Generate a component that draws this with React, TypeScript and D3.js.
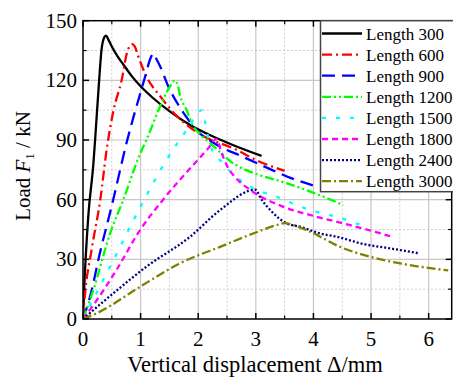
import React from 'react';
import * as d3 from 'd3';

type Pt = [number, number];

const seriesNames = ['Length 300', 'Length 600', 'Length 900', 'Length 1200', 'Length 1500', 'Length 1800', 'Length 2400', 'Length 3000'];
const seriesColors = ['#000000', '#ff0000', '#0000ff', '#00ff00', '#00ffff', '#ff00ff', '#000080', '#808000'];
const seriesDash = ['none', '10,4,2,4', '13,7', '9,3,2,3,2,3', '4,10', '6,4', '2,2', '9,3,2,3'];

const L300: Pt[] = [[0, 0], [0.02, 15], [0.09, 51], [0.18, 78], [0.21, 90], [0.28, 120], [0.32, 135], [0.36, 141], [0.4, 142.5], [0.44, 140.5], [0.5, 137], [0.6, 132], [0.7, 128], [0.85, 122], [1.0, 117], [1.2, 111.5], [1.5, 104.5], [1.86, 97.5], [2.2, 92.5], [2.6, 87.5], [3.1, 82]];
const L600: Pt[] = [[0, 0], [0.03, 11], [0.15, 35], [0.3, 60], [0.41, 85], [0.53, 105], [0.67, 120], [0.76, 133.5], [0.85, 138.2], [0.9, 137], [0.96, 132], [1.1, 122], [1.34, 112], [1.63, 102], [2.0, 93.5], [2.67, 85], [3.0, 80], [3.5, 74.5]];
const L900: Pt[] = [[0, 0], [0.12, 11], [0.3, 34], [0.5, 57], [0.76, 89], [1.08, 122], [1.17, 131], [1.22, 133.5], [1.27, 131], [1.34, 127], [1.48, 117], [1.68, 106.5], [1.86, 99], [1.97, 95], [2.3, 88], [2.78, 81.5], [3.2, 76], [3.6, 71], [4.07, 66.5]];
const L1200: Pt[] = [[0, 0], [0.18, 14.6], [0.47, 43], [0.7, 60], [0.99, 83], [1.1, 90], [1.34, 107], [1.5, 116.5], [1.6, 120], [1.65, 117], [1.68, 113], [1.8, 105], [1.91, 97], [2.03, 93], [2.3, 86], [2.55, 79.5], [3.1, 72], [3.4, 69.5], [3.88, 64.8], [4.52, 57.3]];
const L1500: Pt[] = [[0, 0], [0.5, 28], [0.99, 56], [1.45, 80], [1.8, 95], [2.07, 105], [2.12, 99], [2.2, 88], [2.44, 78], [2.9, 66.5], [3.36, 61.5], [3.94, 54.8], [4.4, 51.4], [4.8, 47.5]];
const L1800: Pt[] = [[0, 0], [0.24, 9.5], [0.58, 24.6], [0.99, 44.7], [1.39, 60], [2.15, 85], [2.32, 90.5], [2.4, 84], [2.5, 77], [2.65, 71], [2.9, 65], [3.48, 56.4], [4.06, 51.4], [4.64, 47.2], [5.33, 41.7]];
const L2400: Pt[] = [[0, 0], [0.12, 3], [0.53, 13], [1.1, 26.3], [1.86, 41.4], [2.38, 54.8], [2.99, 65], [3.1, 60], [3.25, 54.8], [3.54, 48], [3.77, 46.4], [4.11, 43], [4.4, 41.4], [4.87, 37.7], [5.33, 35.5], [5.84, 33]];
const L3000: Pt[] = [[0, 0], [0.24, 2.9], [0.99, 16.2], [1.68, 28], [2.38, 36.3], [3.0, 43.5], [3.36, 47.2], [3.5, 48.2], [3.65, 47.2], [3.94, 43.9], [4.46, 36.3], [4.98, 31.3], [5.5, 28], [6.34, 24.4]];
const seriesData = [L300, L600, L900, L1200, L1500, L1800, L2400, L3000];

const xMajorTicks = [0, 1, 2, 3, 4, 5, 6];
const xMinorTicks = [0.5, 1.5, 2.5, 3.5, 4.5, 5.5];
const yMajorTicks = [0, 30, 60, 90, 120, 150];
const yMinorTicks = [15, 45, 75, 105, 135];

const W = 453, H = 381;
const L = 83, R = 451.7, T = 20.7, B = 319;
const FONT = "Liberation Serif";

export default function App() {
  const x = d3.scaleLinear().domain([0, 6.4]).range([L, R]);
  const y = d3.scaleLinear().domain([0, 150]).range([B, T]);
  const line = d3.line<Pt>().x(d => x(d[0])).y(d => y(d[1])).curve(d3.curveMonotoneX);
  const ts = { fontFamily: FONT };

  const legX = 320.5, legY = T, legB = 191.7;
  const rowY0 = 33.5, rowDy = 21.1;

  return (
    <svg width={W} height={H} style={{ position: 'absolute', left: 0, top: 0, fontFamily: FONT }}>
      <defs>
        <clipPath id="plotclip"><rect x={L} y={T} width={R - L} height={B - T} /></clipPath>
      </defs>
      <rect x={0} y={0} width={W} height={H} fill="#fff" />
      {xMinorTicks.map(v => <line key={'xm' + v} x1={x(v)} x2={x(v)} y1={T} y2={B} stroke="#cfcfcf" strokeWidth={1} strokeDasharray="2,2" />)}
      {yMinorTicks.map(v => <line key={'ym' + v} x1={L} x2={R} y1={y(v)} y2={y(v)} stroke="#cfcfcf" strokeWidth={1} strokeDasharray="2,2" />)}
      {xMajorTicks.filter(v => v > 0).map(v => <line key={'xg' + v} x1={x(v)} x2={x(v)} y1={T} y2={B} stroke="#c8c8c8" strokeWidth={1.2} />)}
      {yMajorTicks.filter(v => v > 0 && v < 150).map(v => <line key={'yg' + v} x1={L} x2={R} y1={y(v)} y2={y(v)} stroke="#c8c8c8" strokeWidth={1.2} />)}
      <g clipPath="url(#plotclip)">
        {seriesData.map((d, i) => (
          <path key={i} d={line(d) || ''} fill="none" stroke={seriesColors[i]} strokeWidth={2.3}
            strokeDasharray={seriesDash[i] === 'none' ? undefined : seriesDash[i]} strokeLinejoin="round" />
        ))}
      </g>
      <rect x={L} y={T} width={R - L} height={B - T} fill="none" stroke="#000" strokeWidth={1.5} />
      {xMajorTicks.map(v => (
        <g key={'xt' + v}>
          <line x1={x(v)} x2={x(v)} y1={B} y2={B - 6} stroke="#000" strokeWidth={1.5} />
          <line x1={x(v)} x2={x(v)} y1={T} y2={T + 6} stroke="#000" strokeWidth={1.5} />
          <text x={x(v)} y={B + 27} textAnchor="middle" fontSize={21} style={ts}>{v}</text>
        </g>
      ))}
      {xMinorTicks.map(v => (
        <g key={'xmt' + v}>
          <line x1={x(v)} x2={x(v)} y1={B} y2={B - 3.5} stroke="#000" strokeWidth={1.2} />
          <line x1={x(v)} x2={x(v)} y1={T} y2={T + 3.5} stroke="#000" strokeWidth={1.2} />
        </g>
      ))}
      {yMajorTicks.map(v => (
        <g key={'yt' + v}>
          <line x1={L} x2={L + 6} y1={y(v)} y2={y(v)} stroke="#000" strokeWidth={1.5} />
          <line x1={R} x2={R - 6} y1={y(v)} y2={y(v)} stroke="#000" strokeWidth={1.5} />
          <text x={L - 6} y={y(v) + 7} textAnchor="end" fontSize={21} style={ts}>{v}</text>
        </g>
      ))}
      {yMinorTicks.map(v => (
        <g key={'ymt' + v}>
          <line x1={L} x2={L + 3.5} y1={y(v)} y2={y(v)} stroke="#000" strokeWidth={1.2} />
          <line x1={R} x2={R - 3.5} y1={y(v)} y2={y(v)} stroke="#000" strokeWidth={1.2} />
        </g>
      ))}
      <text x={255} y={372} textAnchor="middle" fontSize={22.5} style={ts}>Vertical displacement Δ/mm</text>
      <text transform="translate(30,166) rotate(-90)" textAnchor="middle" fontSize={21} style={ts}>
        Load <tspan fontStyle="italic">F</tspan><tspan dy={4} fontSize={13}>1</tspan><tspan dy={-4}> / kN</tspan>
      </text>
      <rect x={legX} y={legY} width={W - legX + 10} height={legB - legY} fill="#fff" stroke="#444" strokeWidth={1.5} />
      {seriesNames.map((n, i) => {
        const yy = rowY0 + i * rowDy;
        return (
          <g key={n}>
            <line x1={322} x2={362} y1={yy} y2={yy} stroke={seriesColors[i]} strokeWidth={2.3}
              strokeDasharray={seriesDash[i] === 'none' ? undefined : seriesDash[i]} />
            <text x={366} y={yy + 6} fontSize={17} style={ts}>{n}</text>
          </g>
        );
      })}
    </svg>
  );
}
